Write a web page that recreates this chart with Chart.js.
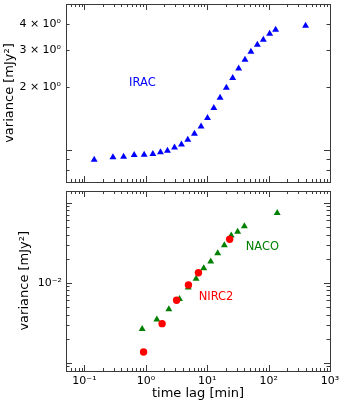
<!DOCTYPE html>
<html><head><meta charset="utf-8">
<script src="https://cdn.jsdelivr.net/npm/chart.js@4/dist/chart.umd.min.js"></script>
<style>
html,body{margin:0;padding:0;background:#fff;}
#wrap{position:relative;width:345px;height:407px;overflow:hidden;background:#fff;}
canvas{position:absolute;left:0;}
#top{top:0;}
#bot{top:186px;}
</style></head><body>
<div id="wrap"><canvas id="top" width="345" height="186"></canvas><canvas id="bot" width="345" height="221"></canvas></div>
<script>
// ---- data ----
const iracLag = [0.144, 0.291, 0.434, 0.645, 0.938, 1.30, 1.73, 2.25, 2.93, 3.80, 4.82, 6.19, 7.93, 10.1, 12.8, 16.2, 20.5, 26.0, 32.5, 41.2, 51.5, 65.5, 82.0, 104, 130, 400];
const iracVar = [0.896, 0.919, 0.926, 0.943, 0.946, 0.954, 0.971, 0.989, 1.026, 1.060, 1.116, 1.193, 1.293, 1.418, 1.583, 1.774, 1.980, 2.211, 2.449, 2.704, 2.953, 3.19, 3.37, 3.60, 3.76, 3.93];
const nacoLag = [0.871, 1.51, 2.37, 3.53, 4.91, 6.58, 8.77, 11.4, 14.8, 19.0, 24.6, 31.3, 40.3, 138];
const nacoVar = [2.64e-3, 3.46e-3, 4.67e-3, 6.27e-3, 8.71e-3, 1.12e-2, 1.52e-2, 1.84e-2, 2.34e-2, 2.94e-2, 3.9e-2, 4.32e-2, 5.08e-2, 7.46e-2];
const nirc2Lag = [0.918, 1.84, 3.17, 4.94, 7.19, 23.2];
const nirc2Var = [1.36e-3, 3.08e-3, 6.04e-3, 9.39e-3, 1.33e-2, 3.50e-2];
const xTickValues = [0.1, 1, 10, 100, 1000];
const xTickLabels = ['10⁻¹', '10⁰', '10¹', '10²', '10³'];
const topYTickValues = [2, 3, 4];
const topYTickLabels = ['2 × 10⁰', '3 × 10⁰', '4 × 10⁰'];
const botYTickValues = [0.01];
const botYTickLabels = ['10⁻²'];

const FONT = "'DejaVu Sans', sans-serif";

function logTickSet(min, max) {
  const out = [];
  const e0 = Math.floor(Math.log10(min)), e1 = Math.ceil(Math.log10(max));
  for (let e = e0; e <= e1; e++) for (let m = 1; m <= 9; m++) {
    const v = m * Math.pow(10, e);
    if (v > min * 1.0001 && v < max * 0.9999) out.push([v, m === 1]);
  }
  return out;
}

function makeFrame(notes) {
  return {
    id: 'frameTicks',
    afterDatasetsDraw(chart) {
      const ctx = chart.ctx, a = chart.chartArea, xs = chart.scales.x, ys = chart.scales.y;
      const L = Math.round(a.left), R = Math.round(a.right), T = Math.round(a.top), B = Math.round(a.bottom);
      ctx.save();
      ctx.strokeStyle = '#3a3a3a';
      ctx.lineWidth = 1;
      ctx.beginPath();
      for (const [v, maj] of logTickSet(xs.min, xs.max)) {
        const px = Math.round(xs.getPixelForValue(v)) + 0.5, len = maj ? 6 : 3;
        ctx.moveTo(px, B); ctx.lineTo(px, B - len);
        ctx.moveTo(px, T); ctx.lineTo(px, T + len);
      }
      for (const [v, maj] of logTickSet(ys.min, ys.max)) {
        const py = Math.round(ys.getPixelForValue(v)) + 0.5, len = maj ? 6 : 3.5;
        ctx.moveTo(L, py); ctx.lineTo(L + len, py);
        ctx.moveTo(R, py); ctx.lineTo(R - len, py);
      }
      ctx.stroke();
      ctx.strokeRect(L + 0.5, T + 0.5, R - L, B - T);
      ctx.font = '11.5px ' + FONT;
      ctx.textAlign = 'center';
      ctx.textBaseline = 'middle';
      for (const n of notes) {
        ctx.fillStyle = n.color;
        ctx.fillText(n.text, xs.getPixelForValue(n.x), ys.getPixelForValue(n.y));
      }
      ctx.restore();
    }
  };
}

function pts(xa, ya) { return xa.map((x, i) => ({x: x, y: ya[i]})); }
function labeler(vals, labels) { return (v) => { const i = vals.findIndex(t => Math.abs(t - v) / t < 1e-6); return i >= 0 ? labels[i] : ''; }; }
function noPad(s) { s.paddingTop = 0; s.paddingBottom = 0; s.paddingLeft = 0; s.paddingRight = 0; }

new Chart(document.getElementById('top'), {
  type: 'scatter',
  data: { datasets: [{
    data: pts(iracLag, iracVar), pointStyle: 'triangle', pointRadius: 4, pointHoverRadius: 4,
    backgroundColor: '#0000ff', borderColor: '#0000ff', pointBorderWidth: 0, borderWidth: 0
  }]},
  options: {
    responsive: false, animation: false, devicePixelRatio: 1,
    layout: { padding: { top: 3, right: 15, left: 0, bottom: 0 } },
    plugins: { legend: { display: false }, tooltip: { enabled: false } },
    scales: {
      x: { type: 'logarithmic', min: 0.05, max: 1000,
        grid: { display: false, drawTicks: false }, border: { display: false },
        ticks: { display: false },
        afterFit(s) { s.height = 4; noPad(s); } },
      y: { type: 'logarithmic', min: 0.7, max: 5,
        grid: { display: false, drawTicks: false, tickLength: 0 }, border: { display: false },
        afterBuildTicks(s) { s.ticks = topYTickValues.map(v => ({value: v})); },
        ticks: { callback: labeler(topYTickValues, topYTickLabels), font: { family: FONT, size: 11 }, color: '#000', padding: 5, autoSkip: false },
        title: { display: true, text: 'variance [mJy²]', font: { family: FONT, size: 13 }, color: '#000', padding: { top: 2.2, bottom: 0 } },
        afterFit(s) { s.width = 66; noPad(s); } }
    }
  },
  plugins: [makeFrame([{ text: 'IRAC', x: 0.877, y: 2.08, color: '#0000ff' }])]
});

new Chart(document.getElementById('bot'), {
  type: 'scatter',
  data: { datasets: [
    { data: pts(nirc2Lag, nirc2Var), pointStyle: 'circle', pointRadius: 3.7, pointHoverRadius: 3.7,
      backgroundColor: '#ff0000', borderColor: '#ff0000', pointBorderWidth: 0, borderWidth: 0, order: 0 },
    { data: pts(nacoLag, nacoVar), pointStyle: 'triangle', pointRadius: 4, pointHoverRadius: 4,
      backgroundColor: '#008000', borderColor: '#008000', pointBorderWidth: 0, borderWidth: 0, order: 1 }
  ]},
  options: {
    responsive: false, animation: false, devicePixelRatio: 1,
    layout: { padding: { top: 5, right: 15, left: 0, bottom: 0 } },
    plugins: { legend: { display: false }, tooltip: { enabled: false } },
    scales: {
      x: { type: 'logarithmic', min: 0.05, max: 1000,
        grid: { display: false, drawTicks: false, tickLength: 0 }, border: { display: false },
        afterBuildTicks(s) { s.ticks = xTickValues.map(v => ({value: v})); },
        ticks: { callback: labeler(xTickValues, xTickLabels), font: { family: FONT, size: 11 }, color: '#000', padding: 4, autoSkip: false, maxRotation: 0, minRotation: 0 },
        title: { display: true, text: 'time lag [min]', font: { family: FONT, size: 13 }, color: '#000', padding: { top: 0, bottom: 5.5 } },
        afterFit(s) { s.height = 36.5; noPad(s); } },
      y: { type: 'logarithmic', min: 8e-4, max: 0.14,
        grid: { display: false, drawTicks: false, tickLength: 0 }, border: { display: false },
        afterBuildTicks(s) { s.ticks = botYTickValues.map(v => ({value: v})); },
        ticks: { callback: labeler(botYTickValues, botYTickLabels), font: { family: FONT, size: 11 }, color: '#000', padding: 4, autoSkip: false },
        title: { display: true, text: 'variance [mJy²]', font: { family: FONT, size: 13 }, color: '#000', padding: { top: 16.5, bottom: 0 } },
        afterFit(s) { s.width = 66; noPad(s); } }
    }
  },
  plugins: [makeFrame([{ text: 'NACO', x: 79, y: 0.0282, color: '#008000' }, { text: 'NIRC2', x: 13.9, y: 0.0067, color: '#ff0000' }])]
});
</script>
</body></html>
